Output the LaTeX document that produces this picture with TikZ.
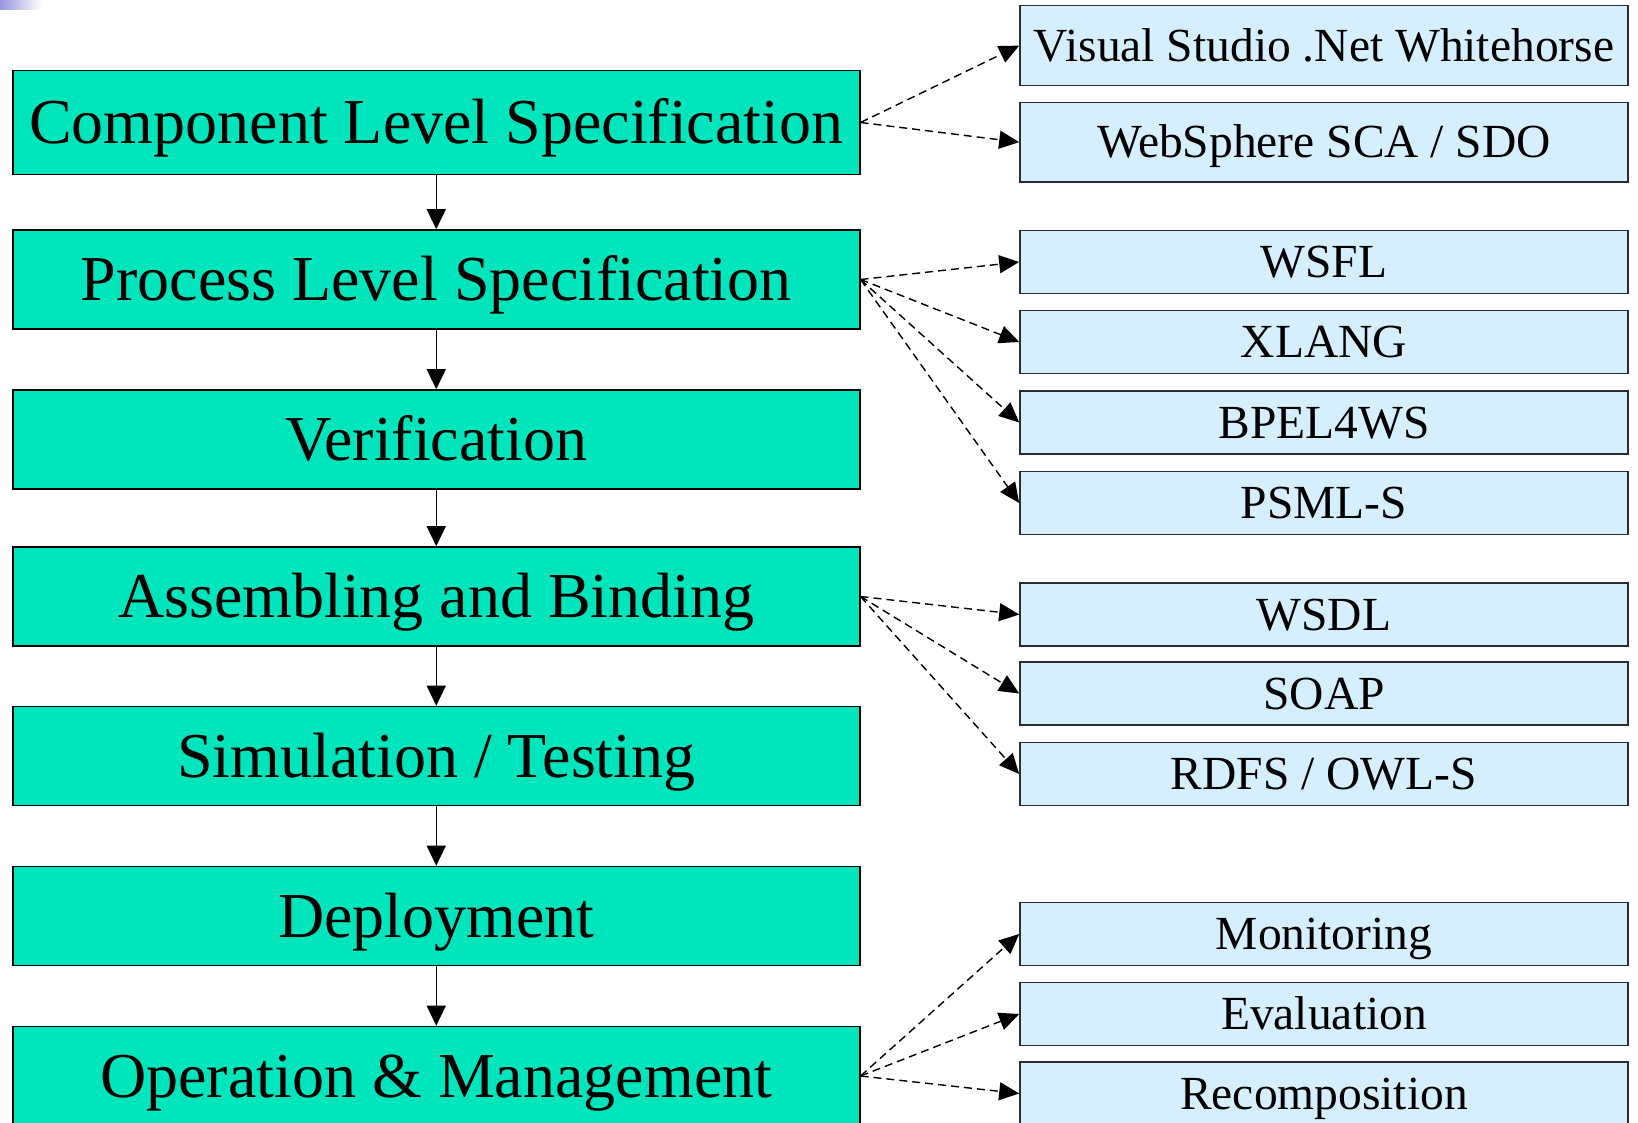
\documentclass[tikz,border=0pt]{standalone}
\usepackage{fontspec}
\setmainfont{Liberation Serif}
\usetikzlibrary{arrows.meta}
\definecolor{stagefill}{RGB}{0,229,187}
\definecolor{toolfill}{RGB}{214,239,255}
\definecolor{toolline}{RGB}{45,45,45}
\definecolor{cornerblue}{RGB}{150,150,222}
\tikzset{
  stagebox/.style={draw=black, line width=1.6pt, fill=stagefill, rectangle,
    minimum width=847pt, inner sep=0pt,
    font=\fontsize{64pt}{70pt}\selectfont, text height=42.4pt, text depth=0pt},
  toolbox/.style={draw=toolline, line width=1.6pt, fill=toolfill, rectangle,
    minimum width=608pt, minimum height=63pt, inner sep=0pt,
    font=\fontsize{47.5pt}{52pt}\selectfont, text height=31.4pt, text depth=0pt},
  flow/.style={line width=1.5pt, -{Triangle[length=20pt,width=19pt]}},
  uses/.style={line width=1.4pt, dash pattern=on 8pt off 5pt,
    -{Triangle[length=20pt,width=18pt]}}
}
\begin{document}
\begin{tikzpicture}[x=1pt,y=-1pt]
\useasboundingbox (0,0) rectangle (1638,1123);
\clip (0,0) rectangle (1638,1123);
% faded corner mark
\shade[left color=cornerblue, right color=white] (0,0) rectangle (42,10);

% life-cycle stages
\node[stagebox, minimum height=104pt] (g1) at (436.25,122.5) {Component Level Specification};
\node[stagebox, minimum height=99pt] (g2) at (436.25,279.5) {Process Level Specification};
\node[stagebox, minimum height=99pt] (g3) at (436.25,439.5) {Verification};
\node[stagebox, minimum height=99pt] (g4) at (436.25,596.5) {Assembling and Binding};
\node[stagebox, minimum height=99pt] (g5) at (436.25,756) {Simulation / Testing};
\node[stagebox, minimum height=99pt] (g6) at (436.25,916) {Deployment};
\node[stagebox, minimum height=99pt] (g7) at (436.25,1076) {Operation \& Management};

% supporting technologies
\node[toolbox, minimum height=80pt] (t1) at (1324,45.6) {Visual Studio .Net Whitehorse};
\node[toolbox, minimum height=79.5pt] (t2) at (1324,142.2) {WebSphere SCA / SDO};
\node[toolbox] (t3) at (1324,262) {WSFL};
\node[toolbox] (t4) at (1324,342) {XLANG};
\node[toolbox] (t5) at (1324,422.5) {BPEL4WS};
\node[toolbox] (t6) at (1324,503) {PSML-S};
\node[toolbox] (t7) at (1324,614.5) {WSDL};
\node[toolbox] (t8) at (1324,693.5) {SOAP};
\node[toolbox] (t9) at (1324,774) {RDFS / OWL-S};
\node[toolbox] (t10) at (1324,934) {Monitoring};
\node[toolbox] (t11) at (1324,1014) {Evaluation};
\node[toolbox] (t12) at (1324,1093.5) {Recomposition};

% stage sequence
\draw[flow] (g1.south) -- (g2.north);
\draw[flow] (g2.south) -- (g3.north);
\draw[flow] (g3.south) -- (g4.north);
\draw[flow] (g4.south) -- (g5.north);
\draw[flow] (g5.south) -- (g6.north);
\draw[flow] (g6.south) -- (g7.north);

% stage to technology links
\draw[uses] (g1.east) -- (t1.west);
\draw[uses] (g1.east) -- (t2.west);
\draw[uses] (g2.east) -- (t3.west);
\draw[uses] (g2.east) -- (t4.west);
\draw[uses] (g2.east) -- (t5.west);
\draw[uses] (g2.east) -- (t6.west);
\draw[uses] (g4.east) -- (t7.west);
\draw[uses] (g4.east) -- (t8.west);
\draw[uses] (g4.east) -- (t9.west);
\draw[uses] (g7.east) -- (t10.west);
\draw[uses] (g7.east) -- (t11.west);
\draw[uses] (g7.east) -- (t12.west);
\end{tikzpicture}
\end{document}
